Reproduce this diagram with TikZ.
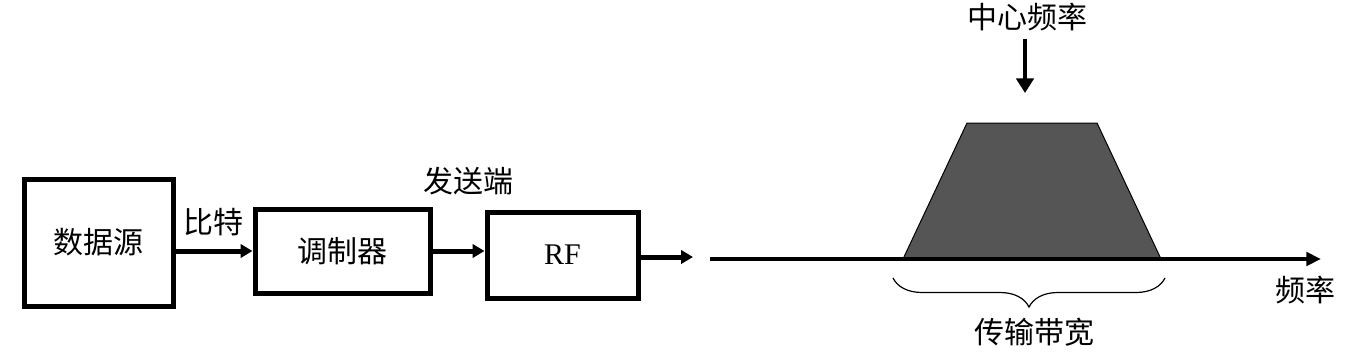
\documentclass[tikz,border=0pt]{standalone}
\usepackage{fontspec}
\setmainfont{Liberation Serif}
\newfontfamily\cjk{Noto Sans CJK SC}
\usetikzlibrary{arrows.meta,decorations.pathreplacing}
\definecolor{bandgray}{RGB}{85,85,85}

\begin{document}
\begin{tikzpicture}[x=0.75pt,y=-0.75pt,
    blockbox/.style={draw=black,line width=3.75pt,inner sep=0pt,font=\fontsize{22.5}{27}\selectfont\cjk},
    cjktext/.style={inner sep=0pt,font=\fontsize{22.5}{27}\selectfont\cjk},
    flow/.style={line width=3.75pt,-{Triangle[length=9pt,width=10pt]}},
    axisline/.style={line width=3pt,-{Triangle[length=11pt,width=10pt]}}]
   \useasboundingbox (0,0) rectangle (1346,354);
   \node[blockbox,minimum width=111.75pt,minimum height=95.25pt] (src) at (98.5,242.5) {数据源};
   \node[blockbox,minimum width=131.25pt,minimum height=63pt] (mod) at (342.5,251) {调制器};
   \node[blockbox,minimum width=113.25pt,minimum height=64.5pt,font=\fontsize{22.5}{27}\selectfont] (rf) at (562.5,255) {RF};
   \coordinate (out) at (693,257);
   \draw[flow] (src.east |- mod.west) -- (mod.west);
   \draw[flow] (mod.east) -- (mod.east -| rf.west);
   \draw[flow] (rf.east |- out) -- (out);
   \node[cjktext] (bits) at (213,222) {比特};
   \node[cjktext] (tx) at (468,181) {发送端};

   \coordinate (f0) at (710,259);
   \coordinate (f1) at (1321,259);
   \coordinate (b1) at (903,259);
   \coordinate (t1) at (967,123);
   \coordinate (t2) at (1097,123);
   \coordinate (b2) at (1161,259);
   \filldraw[fill=bandgray,draw=black,line width=0.75pt] (b1) -- (t1) -- (t2) -- (b2) -- cycle;
   \draw[axisline] (f0) -- (f1);
   \node[cjktext] (freq) at (1305,290) {频率};
   \node[cjktext] (cf) at (1027,17) {中心频率};
   \coordinate (cfa) at (1025,39);
   \coordinate (cfb) at (1025,93);
   \draw[line width=3pt,-{Triangle[length=11pt,width=13pt]}] (cfa) -- (cfb);
   \coordinate (w0) at (893,278);
   \coordinate (w1) at (1165,278);
   \draw[line width=0.9pt,decorate,decoration={brace,mirror,amplitude=21.75pt}] (w0) -- (w1);
   \node[cjktext] (bw) at (1034,332) {传输带宽};
\end{tikzpicture}
\end{document}
